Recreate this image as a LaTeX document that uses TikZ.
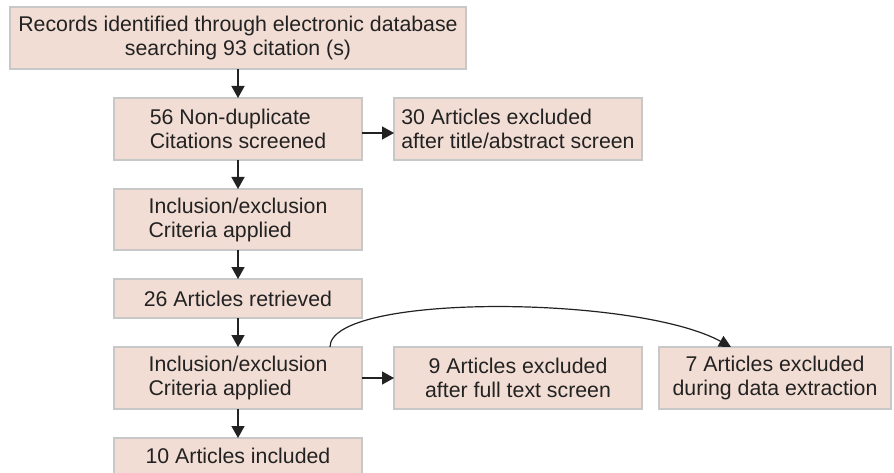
\documentclass[tikz,border=0pt]{standalone}
\usepackage{fontspec}
\setmainfont{Liberation Sans}
\usetikzlibrary{arrows.meta}

\definecolor{boxfill}{RGB}{242,221,212}
\definecolor{boxline}{RGB}{200,200,200}
\definecolor{ink}{RGB}{34,34,34}

\tikzset{
  flowbox/.style={draw=boxline, fill=boxfill, line width=1.5pt, outer sep=0pt,
    inner sep=0pt, text=ink, font=\fontsize{21.3}{24}\selectfont},
  leftbox/.style={flowbox, align=left, minimum width=#1pt},
  midbox/.style={flowbox, align=center, minimum width=#1pt},
  flow/.style={draw=ink, line width=1.5pt,
    -{Triangle[length=12pt,width=13pt]}},
  skiparrow/.style={draw=ink, line width=1.2pt,
    -{Triangle[length=12pt,width=12pt]}}
}

\begin{document}
\begin{tikzpicture}[x=1pt,y=-1pt]
  \clip (0,0) rectangle (894,473);
  \fill[white] (0,0) rectangle (894,473);

  % main column
  \node[midbox=456, minimum height=62pt] (rec) at (238,38)
    {Records identified through electronic database\\searching 93 citation (s)};
  \node[leftbox=248, minimum height=62pt] (scr) at (238,129)
    {56 Non-duplicate\\Citations screened};
  \node[leftbox=248, minimum height=61pt] (crA) at (238,219.5)
    {Inclusion/exclusion\\Criteria applied};
  \node[midbox=248, minimum height=39pt] (ret) at (238,298.5)
    {26 Articles retrieved};
  \node[leftbox=248, minimum height=62pt] (crB) at (238,378)
    {Inclusion/exclusion\\Criteria applied};
  \node[midbox=248, minimum height=36pt] (inc) at (238,456)
    {10 Articles included};

  % exclusions
  \node[leftbox=248, minimum height=62pt] (exA) at (518,129)
    {30 Articles excluded\\after title/abstract screen};
  \node[midbox=248, minimum height=62pt] (exB) at (518,378)
    {9 Articles excluded\\after full text screen};
  \node[midbox=232, minimum height=62pt] (exC) at (775,378)
    {7 Articles excluded\\during data extraction};

  % connectors
  \draw[flow] (rec.south) -- (scr.north);
  \draw[flow] (scr.south) -- (crA.north);
  \draw[flow] (crA.south) -- (ret.north);
  \draw[flow] (ret.south) -- (crB.north);
  \draw[flow] (crB.south) -- (inc.north);
  \draw[flow] ([yshift=-4pt]scr.east) -- ([yshift=-4pt]exA.west);
  \draw[flow] (crB.east) -- (exB.west);
  \draw[skiparrow] ([xshift=-32pt]crB.north east)
    .. controls +(0pt,54pt) and +(-95pt,52pt) .. ([xshift=-44pt]exC.north);
\end{tikzpicture}
\end{document}
